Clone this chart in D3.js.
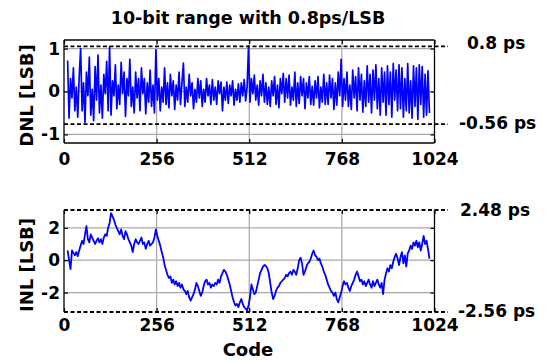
<!DOCTYPE html>
<html>
<head>
<meta charset="utf-8">
<script src="https://cdn.jsdelivr.net/npm/d3@7"></script>
<style>
  body { margin: 0; background: #fff; }
  text { font-family: "DejaVu Sans", sans-serif; font-weight: bold; }
</style>
</head>
<body>
<div id="chart"></div>
<script>
// codes sampled every 4 LSB
const codes = d3.range(10, 1011, 4);

const dnl = [
  0.72, -0.62, 0.30, -0.15, 0.55, -0.45, 0.10, -0.60, 0.35, 1.00,
  -0.45, 0.20, -0.72, 0.45, -0.10, 0.80, -0.55, 0.05, -0.68, 0.58,
  -0.20, 0.85, -0.50, 0.15, -0.62, 0.40, -0.05, 0.70, -0.45, 1.04,
  -0.55, 0.25, -0.10, 0.62, -0.40, 0.15, -0.30, 0.68, -0.05, 0.45,
  -0.58, 0.30, -0.10, 0.75, -0.35, 0.10, -0.50, 0.45, -0.15, 0.30,
  -0.45, 0.55, -0.05, 0.30, -0.52, 0.20, -0.25, 0.50, -0.35, 0.15,
  -0.50, 0.97, -0.20, 0.30, -0.45, 0.10, -0.25, 0.55, -0.30, 0.20,
  -0.38, 0.40, -0.10, 0.25, -0.42, 0.15, -0.20, 0.45, -0.30, 0.20,
  0.66, -0.35, 0.10, -0.25, 0.40, -0.10, 0.20, -0.40, 0.05, -0.25,
  0.30, -0.15, 0.25, -0.35, 0.05, -0.25, 0.30, -0.10, 0.15, -0.30,
  0.28, -0.20, 0.10, -0.30, 0.25, -0.05, 0.22, -0.45, 0.10, -0.20,
  0.22, -0.28, 0.15, -0.10, 0.25, -0.32, 0.05, -0.20, 0.18, -0.25,
  0.20, -0.10, 0.28, -0.22, 0.10, 1.05, -0.25, 0.30, -0.05, 0.38,
  -0.20, 0.15, -0.32, 0.25, -0.10, 0.40, -0.25, 0.20, -0.30, 0.10,
  -0.35, 0.25, -0.10, 0.35, -0.30, 0.15, -0.38, 0.30, -0.05, 0.42,
  -0.25, 0.30, -0.15, 0.38, -0.32, 0.10, -0.20, 0.45, -0.35, 0.20,
  -0.28, 0.35, -0.10, 0.30, -0.40, 0.20, -0.15, 0.35, -0.30, 0.12,
  -0.32, 0.25, -0.15, 0.35, -0.38, 0.10, -0.25, 0.40, -0.30, 0.20,
  -0.30, 0.38, -0.15, 0.30, -0.42, 0.20, -0.32, 0.45, -0.10, 0.75,
  -0.35, 0.30, -0.20, 0.45, -0.35, 0.15, -0.42, 0.50, -0.15, 0.35,
  -0.45, 0.55, -0.20, 0.40, -0.48, 0.25, -0.35, 0.60, -0.25, 0.40,
  -0.50, 0.50, -0.20, 0.62, -0.40, 0.30, -0.55, 0.55, -0.25, 0.45,
  -0.55, 0.60, -0.30, 0.45, -0.60, 0.65, -0.20, 0.50, -0.45, 0.62,
  -0.40, 0.55, -0.60, 0.30, -0.45, 0.65, -0.50, 0.25, -0.62, 0.60,
  -0.35, 0.55, -0.65, 0.62, -0.30, 0.58, -0.60, 0.40, -0.55, 0.48,
  -0.50
];

const inl = [
  0.6, 0.0, -0.55, 0.6, 0.45, 0.3, 0.5, 0.25, 0.6, 0.9,
  1.2, 1.0, 1.6, 2.1, 1.3, 1.1, 1.6, 1.4, 1.2, 1.0,
  1.2, 1.35, 1.1, 1.3, 1.0, 1.4, 1.6, 1.5, 2.0, 2.3,
  2.9, 2.7, 2.5, 2.2, 2.0, 1.8, 1.6, 1.9, 1.5, 1.3,
  1.8, 1.6, 1.3, 1.1, 0.9, 0.5, 1.0, 1.3, 1.1, 1.0,
  1.2, 1.4, 1.0, 1.1, 0.7, 1.0, 1.2, 0.9, 1.0, 1.1,
  1.4, 1.9, 1.5, 1.2, 0.9, 0.5, 0.2, -0.3, -0.6, -0.9,
  -1.1, -1.0, -1.4, -1.2, -1.5, -1.3, -1.6, -1.4, -1.7, -1.5,
  -1.8, -1.9, -2.1, -1.9, -2.3, -2.5, -2.3, -2.1, -1.8, -1.4,
  -1.6, -1.9, -2.2, -2.0, -1.6, -1.3, -1.2, -1.5, -1.4, -1.7,
  -1.5, -1.6, -1.4, -1.5, -1.2, -1.4, -1.0, -0.8, -0.6, -0.7,
  -0.9, -1.2, -1.5, -1.9, -2.3, -2.6, -2.8, -2.7, -2.9, -2.6,
  -2.4, -2.7, -2.9, -3.0, -3.1, -2.8, -2.3, -1.5, -1.8, -2.1,
  -2.0, -1.6, -1.2, -0.8, -0.6, -0.4, -0.3, -0.35, -0.5, -0.8,
  -1.4, -2.0, -2.4, -2.2, -1.9, -1.7, -1.6, -1.4, -1.3, -1.2,
  -1.1, -0.9, -1.0, -0.8, -0.7, -0.9, -0.6, -0.7, -0.9, -0.5,
  0.0, 0.15, -0.2, -0.9, -0.7, -0.4, -0.2, -0.1, 0.1, 0.4,
  0.6, 0.3, 0.2, 0.0, 0.1, -0.2, -0.4, -0.7, -0.9, -1.2,
  -1.5, -1.7, -1.9, -2.0, -2.2, -2.0, -2.4, -2.6, -2.3, -2.0,
  -1.6, -1.3, -1.5, -1.4, -1.7, -1.9, -1.6, -1.4, -1.2, -0.9,
  -0.7, -1.0, -1.3, -1.2, -1.5, -1.3, -1.6, -1.4, -1.2, -1.5,
  -1.7, -1.3, -1.6, -1.4, -1.2, -1.5, -1.7, -1.4, -2.1, -1.2,
  -0.8, -0.5, -0.7, -0.3, -0.5, -0.1, 0.2, 0.4, 0.1, -0.3,
  0.2, 0.5, -0.2, 0.3, -0.4, 0.4, 0.6, 0.9, 0.7, 1.1,
  0.9, 1.2, 0.8, 1.1, 0.6, 1.0, 1.5, 1.0, 1.2, 0.7,
  0.1
];

const xTicks = [0, 256, 512, 768, 1024];
const dnlTicks = [-1, 0, 1];
const inlTicks = [-2, 0, 2];
const dnlLimits = [1.05, -0.76];
const dnlLimitLabels = ['0.8 ps', '-0.56 ps'];
const inlLimits = [3.1, -3.2];
const inlLimitLabels = ['2.48 ps', '-2.56 ps'];

const svg = d3
  .select('#chart')
  .append('svg')
  .attr('width', 552)
  .attr('height', 362)
  .style('display', 'block');

const xScale = d3.scaleLinear().domain([0, 1024]).range([64, 434.5]);
const dashEnd = 448;

svg
  .append('text')
  .attr('x', 248)
  .attr('y', 24)
  .attr('text-anchor', 'middle')
  .attr('font-size', 17.5)
  .text('10-bit range with 0.8ps/LSB');

const drawPanel = p => {
  const y = d3.scaleLinear().domain(p.domain).range([p.bottom, p.top]);
  const g = svg.append('g');
  const [x0, x1] = xScale.range();

  // grid
  g.selectAll('.vgrid')
    .data(xTicks.slice(1, -1))
    .enter()
    .append('line')
    .attr('x1', d => xScale(d))
    .attr('x2', d => xScale(d))
    .attr('y1', p.top)
    .attr('y2', p.bottom)
    .attr('stroke', '#a8a8a8')
    .attr('stroke-width', 1.2);
  g.selectAll('.hgrid')
    .data(p.ticks)
    .enter()
    .append('line')
    .attr('x1', x0)
    .attr('x2', x1)
    .attr('y1', d => y(d))
    .attr('y2', d => y(d))
    .attr('stroke', '#a8a8a8')
    .attr('stroke-width', 1.2);

  // data
  const line = d3
    .line()
    .x((d, i) => xScale(codes[i]))
    .y(d => y(d));
  g.append('path')
    .datum(p.values)
    .attr('d', line)
    .attr('fill', 'none')
    .attr('stroke', '#0000ff')
    .attr('stroke-width', p.lw)
    .attr('stroke-linejoin', 'round');

  // frame
  const edges = [
    [x0, p.top, x0, p.bottom],
    [x1, p.top, x1, p.bottom],
  ];
  if (p.solidTopBottom) {
    edges.push([x0, p.top, x1, p.top], [x0, p.bottom, x1, p.bottom]);
  }
  g.selectAll('.edge')
    .data(edges)
    .enter()
    .append('line')
    .attr('x1', d => d[0])
    .attr('y1', d => d[1])
    .attr('x2', d => d[2])
    .attr('y2', d => d[3])
    .attr('stroke', '#000')
    .attr('stroke-width', 1.3);

  // axes, ticks inside like matlab
  const fontIt = a => {
    a.select('.domain').remove();
    a.attr('font-family', '"DejaVu Sans", sans-serif').attr('font-size', 17).attr('font-weight', 'bold');
    a.selectAll('line').attr('stroke-width', 1.2);
  };
  g.append('g')
    .attr('transform', `translate(0,${p.bottom})`)
    .call(
      d3
        .axisBottom(xScale)
        .tickValues(xTicks)
        .tickSizeInner(-4)
        .tickSizeOuter(0)
        .tickPadding(p.xPad)
        .tickFormat(d => String(d))
    )
    .call(fontIt);
  g.append('g')
    .attr('transform', `translate(0,${p.top})`)
    .call(d3.axisTop(xScale).tickValues(xTicks).tickSizeInner(-4).tickSizeOuter(0).tickFormat(''))
    .call(fontIt);
  g.append('g')
    .attr('transform', `translate(${x0},0)`)
    .call(
      d3
        .axisLeft(y)
        .tickValues(p.ticks)
        .tickSizeInner(-4)
        .tickSizeOuter(0)
        .tickPadding(4)
        .tickFormat(d => String(d))
    )
    .call(fontIt);
  g.append('g')
    .attr('transform', `translate(${x1},0)`)
    .call(d3.axisRight(y).tickValues(p.ticks).tickSizeInner(-4).tickSizeOuter(0).tickFormat(''))
    .call(fontIt);

  // limit lines + ps labels
  g.selectAll('.limit')
    .data(p.limits)
    .enter()
    .append('line')
    .attr('x1', x0)
    .attr('x2', dashEnd)
    .attr('y1', d => y(d))
    .attr('y2', d => y(d))
    .attr('stroke', '#000')
    .attr('stroke-width', 1.8)
    .attr('stroke-dasharray', '4,2.5');
  g.selectAll('.limlabel')
    .data(p.limitLabels)
    .enter()
    .append('text')
    .attr('x', (d, i) => p.labelX[i])
    .attr('y', (d, i) => p.labelY[i])
    .attr('font-size', 17)
    .text(d => d);

  // y label
  g.append('text')
    .attr('transform', `translate(33,${(p.top + p.bottom) / 2 + 4}) rotate(-90)`)
    .attr('text-anchor', 'middle')
    .attr('font-size', 18)
    .text(p.ylabel);
};

drawPanel({
  top: 40,
  bottom: 143,
  domain: [-1.2, 1.2],
  ticks: dnlTicks,
  values: dnl,
  lw: 1.7,
  limits: dnlLimits,
  limitLabels: dnlLimitLabels,
  labelX: [467, 459],
  labelY: [49, 129],
  ylabel: 'DNL [LSB]',
  xPad: 9.5,
  solidTopBottom: true,
});

drawPanel({
  top: 210,
  bottom: 312,
  domain: [-3.2, 3.1],
  ticks: inlTicks,
  values: inl,
  lw: 1.8,
  limits: inlLimits,
  limitLabels: inlLimitLabels,
  labelX: [460, 458],
  labelY: [216, 317],
  ylabel: 'INL [LSB]',
  xPad: 7,
  solidTopBottom: false,
});

svg
  .append('text')
  .attr('x', 248)
  .attr('y', 356)
  .attr('text-anchor', 'middle')
  .attr('font-size', 18)
  .text('Code');
</script>
</body>
</html>
